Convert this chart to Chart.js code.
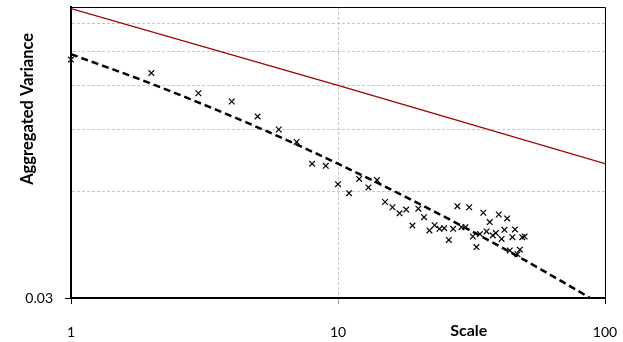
<!DOCTYPE html>
<html>
<head>
<meta charset="utf-8">
<script src="https://cdn.jsdelivr.net/npm/chart.js@4.4.1/dist/chart.umd.min.js"></script>
<style>
  html, body { margin: 0; padding: 0; background: #fff; }
  #wrap { width: 623px; height: 342px; }
</style>
</head>
<body>
<div id="wrap"><canvas id="varChart" width="623" height="342"></canvas></div>
<script>
// aggregation scales and measured aggregated variance
const scales = [1, 2, 3, 4, 5, 6, 7, 8, 9, 10,
  11, 12, 13, 14, 15, 16, 17, 18, 19, 20,
  21, 22, 23, 24, 25, 26, 27, 28, 29, 30,
  31, 32, 33, 34, 35, 36, 37, 38, 39, 40,
  41, 42, 43, 44, 45, 46, 47, 48, 49, 50];
const variance = [0.142, 0.130, 0.114, 0.108, 0.098, 0.090, 0.083, 0.072, 0.071, 0.063,
  0.0594, 0.0652, 0.0617, 0.0647, 0.0561, 0.0542, 0.0521, 0.0534, 0.0481, 0.0537,
  0.0508, 0.0466, 0.0482, 0.0471, 0.0473, 0.0438, 0.0471, 0.0546, 0.0476, 0.0476,
  0.0542, 0.0448, 0.0418, 0.0455, 0.0523, 0.0463, 0.0492, 0.0451, 0.0458, 0.0517,
  0.0441, 0.0468, 0.0504, 0.0409, 0.0446, 0.0469, 0.0399, 0.0411, 0.0446, 0.0448];

// fitted trend (dashed)
const fitX = [1, 2, 5, 10, 20, 30, 50, 70, 88];
const fitY = [0.147, 0.1213, 0.0913, 0.0720, 0.0556, 0.0474, 0.0384, 0.0332, 0.030];

// reference line (red)
const refX = [1, 10, 100];
const refY = [0.198, 0.120, 0.072];

const xTicks = [1, 10, 100];
const yTicks = [0.03, 0.06, 0.09, 0.12, 0.15, 0.18];

const toPoints = (xs, ys) => xs.map((x, i) => ({ x: x, y: ys[i] }));

const FONT = 'Lato, "Open Sans", sans-serif';
const GRID = '#c6c6c6';

// no automatic label padding, the layout padding decides
const noPad = s => { s.paddingTop = 0; s.paddingBottom = 0; s.paddingLeft = 0; s.paddingRight = 0; };

// frame on top/right + axis titles
const decor = {
  id: 'decor',
  afterDraw(chart) {
    const { ctx, chartArea: a } = chart;
    ctx.save();
    ctx.strokeStyle = '#000';
    ctx.lineWidth = 1;
    ctx.beginPath();
    ctx.moveTo(a.left, a.top + 0.5);
    ctx.lineTo(a.right + 0.5, a.top + 0.5);
    ctx.lineTo(a.right + 0.5, a.bottom);
    ctx.stroke();

    ctx.fillStyle = '#000';
    ctx.font = 'bold 16px ' + FONT;
    ctx.textAlign = 'center';
    ctx.textBaseline = 'middle';
    ctx.fillText('Scale', a.left + (a.right - a.left) * 0.745, 331);

    ctx.translate(28, a.top + (a.bottom - a.top) * 0.35);
    ctx.rotate(-Math.PI / 2);
    ctx.font = 'bold 16.5px ' + FONT;
    ctx.fillText('Aggregated Variance', 0, 0);
    ctx.restore();
  }
};

const ctx = document.getElementById('varChart').getContext('2d');
new Chart(ctx, {
  type: 'scatter',
  data: {
    datasets: [
      {
        label: 'Aggregated Variance',
        data: toPoints(scales, variance),
        pointStyle: 'crossRot',
        pointRadius: 4,
        borderColor: '#000',
        borderWidth: 1.2,
        showLine: false,
        clip: 6
      },
      {
        label: 'Fit',
        data: toPoints(fitX, fitY),
        showLine: true,
        borderColor: '#000',
        borderWidth: 2.5,
        borderDash: [7, 4],
        pointRadius: 0,
        cubicInterpolationMode: 'monotone'
      },
      {
        label: 'Reference',
        data: toPoints(refX, refY),
        showLine: true,
        borderColor: '#a00000',
        borderWidth: 1.3,
        pointRadius: 0
      }
    ]
  },
  plugins: [decor],
  options: {
    responsive: false,
    animation: false,
    layout: { padding: { top: 7, right: 18, left: 0, bottom: 0 } },
    plugins: {
      legend: { display: false },
      tooltip: { enabled: false }
    },
    scales: {
      x: {
        type: 'logarithmic',
        min: 1,
        max: 100,
        afterBuildTicks: s => { s.ticks = xTicks.map(v => ({ value: v })); },
        afterFit: s => { s.height = 44; noPad(s); },
        ticks: {
          autoSkip: false,
          maxRotation: 0,
          padding: 20,
          color: '#000',
          font: { family: FONT, size: 14 },
          callback: v => String(v)
        },
        grid: {
          color: c => (c.tick && c.tick.value === 10) ? GRID : 'rgba(0,0,0,0)',
          tickColor: c => (c.tick && c.tick.value === 10) ? '#a0a0a0' : '#000',
          tickLength: 6,
          lineWidth: 1
        },
        border: { display: true, color: '#000', width: 2, dash: [3, 2] }
      },
      y: {
        type: 'logarithmic',
        min: 0.03,
        max: 0.2,
        afterBuildTicks: s => { s.ticks = yTicks.map(v => ({ value: v })); },
        afterFit: s => { s.width = 71; noPad(s); },
        ticks: {
          autoSkip: false,
          padding: 12,
          color: '#000',
          font: { family: FONT, size: 14 },
          callback: v => (v === 0.03 ? '0.03' : '')
        },
        grid: {
          color: c => (c.tick && c.tick.value === 0.03) ? 'rgba(0,0,0,0)' : GRID,
          tickColor: c => (c.tick && c.tick.value === 0.03) ? '#000' : 'rgba(0,0,0,0)',
          tickLength: 6,
          lineWidth: 1
        },
        border: { display: true, color: '#000', width: 2, dash: [3, 2] }
      }
    }
  }
});
</script>
</body>
</html>
